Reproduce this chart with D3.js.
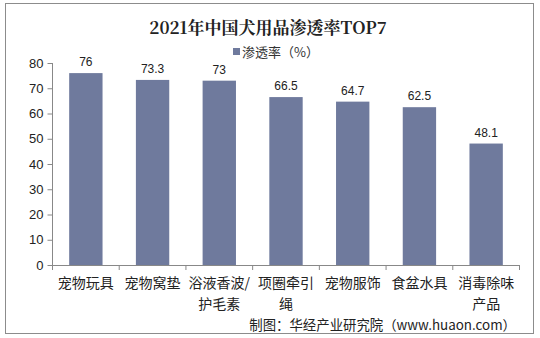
<!DOCTYPE html>
<html>
<head>
<meta charset="utf-8">
<script src="https://cdn.jsdelivr.net/npm/d3@7"></script>
<style>
  html, body { margin: 0; padding: 0; background: #fff; }
  svg { display: block; }
</style>
</head>
<body>
<script>
// Penetration rate of dog products in China, 2021 (top 7)
const categories = [["宠物玩具"], ["宠物窝垫"], ["浴液香波/", "护毛素"], ["项圈牵引", "绳"], ["宠物服饰"], ["食盆水具"], ["消毒除味", "产品"]];
const values = [76, 73.3, 73, 66.5, 64.7, 62.5, 48.1];
const yTicks = [0, 10, 20, 30, 40, 50, 60, 70, 80];

const W = 540, H = 338;
const svg = d3.select("body").append("svg").attr("width", W).attr("height", H);

// outer frame
svg.append("rect").attr("x", 5.5).attr("y", 3.5).attr("width", 528).attr("height", 330)
  .attr("fill", "#fff").attr("stroke", "#8c8c8c").attr("stroke-width", 1);

// title
svg.append("text").attr("x", 268).attr("y", 34).attr("text-anchor", "middle")
  .attr("font-family", "'Noto Serif CJK SC', 'Noto Sans CJK SC', serif")
  .attr("font-weight", "bold").attr("font-size", 17).attr("fill", "#222")
  .text("2021年中国犬用品渗透率TOP7");

const barColor = "#6f7a9d";

// legend
svg.append("rect").attr("x", 233).attr("y", 48).attr("width", 7).attr("height", 7).attr("fill", barColor);
svg.append("text").attr("x", 242).attr("y", 57)
  .attr("font-family", "'Noto Sans CJK SC', sans-serif").attr("font-size", 13).attr("fill", "#333")
  .text("渗透率（%）");

const x = d3.scaleBand().domain(d3.range(categories.length)).range([52.5, 519.5]).paddingInner(0.5).paddingOuter(0.25);
const y = d3.scaleLinear().domain([0, 80]).range([265, 63]);

// bars
svg.selectAll("rect.bar").data(values).join("rect").attr("class", "bar")
  .attr("x", (d, i) => x(i)).attr("width", x.bandwidth())
  .attr("y", d => y(d)).attr("height", d => y(0) - y(d))
  .attr("fill", barColor);

// value labels
svg.selectAll("text.val").data(values).join("text").attr("class", "val")
  .attr("x", (d, i) => x(i) + x.bandwidth() / 2).attr("y", d => y(d) - 7)
  .attr("text-anchor", "middle")
  .attr("font-family", "'Liberation Sans', Arial, sans-serif").attr("font-size", 12).attr("fill", "#222")
  .text(d => d);

// y axis
const yAxis = svg.append("g").attr("transform", "translate(52.5,0)")
  .call(d3.axisLeft(y).tickValues(yTicks).tickSize(5).tickPadding(4));
yAxis.select(".domain").attr("stroke", "#888").attr("d", `M0,${y(80)}V${y(0)}`);
yAxis.selectAll(".tick line").attr("stroke", "#888");
yAxis.selectAll(".tick text").attr("font-family", "'Liberation Sans', Arial, sans-serif")
  .attr("font-size", 13).attr("fill", "#222");

// x axis line and category separator ticks
const step = x.step();
const x0 = 52.5;
svg.append("line").attr("x1", x0).attr("x2", x0 + step * categories.length)
  .attr("y1", y(0) + 0.5).attr("y2", y(0) + 0.5).attr("stroke", "#888");
svg.selectAll("line.sep").data(d3.range(categories.length + 1)).join("line").attr("class", "sep")
  .attr("x1", i => x0 + i * step).attr("x2", i => x0 + i * step)
  .attr("y1", y(0)).attr("y2", y(0) + 5).attr("stroke", "#888");

// category labels
const cat = svg.selectAll("text.cat").data(categories).join("text").attr("class", "cat")
  .attr("text-anchor", "middle")
  .attr("font-family", "'Noto Sans CJK SC', sans-serif").attr("font-size", 14).attr("fill", "#222");
cat.selectAll("tspan").data((d, i) => d.map(s => ({ s, i }))).join("tspan")
  .attr("x", d => x(d.i) + x.bandwidth() / 2)
  .attr("y", (d, j) => 288 + j * 20.5)
  .text(d => d.s);

// source note
svg.append("text").attr("x", 516).attr("y", 329.5).attr("text-anchor", "end")
  .attr("font-family", "'Noto Sans CJK SC', sans-serif").attr("font-size", 13.4).attr("fill", "#222")
  .text("制图：华经产业研究院（www.huaon.com）");
</script>
</body>
</html>
